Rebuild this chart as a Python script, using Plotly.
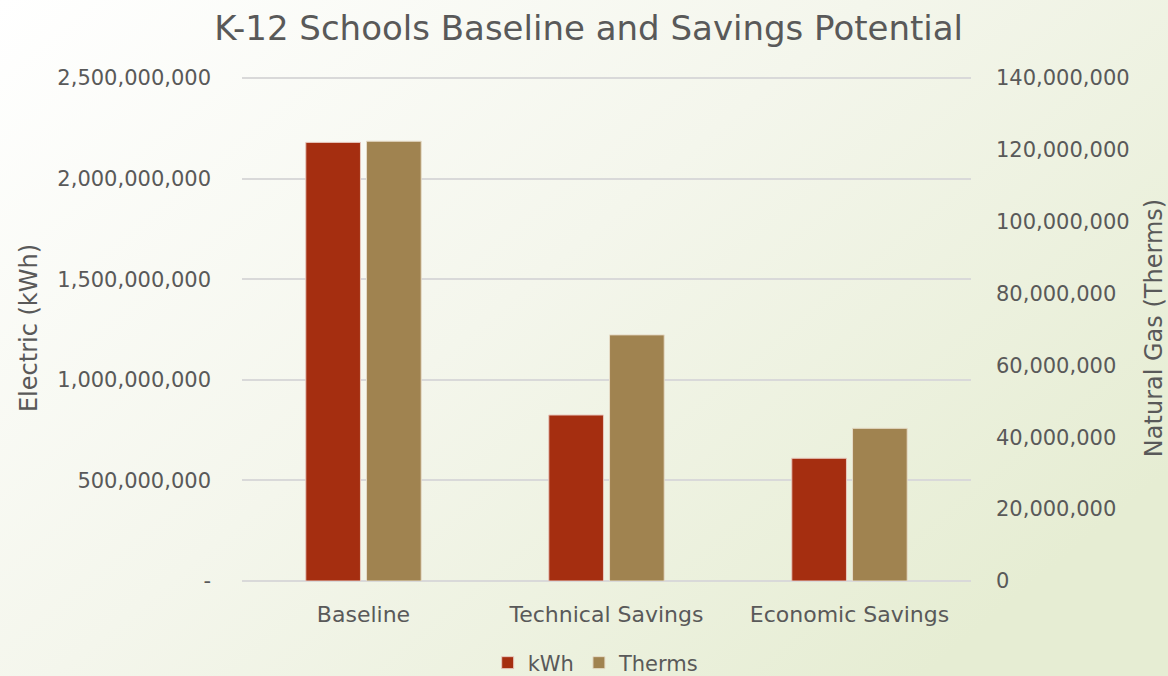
import base64
import plotly.graph_objects as go

categories = ["Baseline", "Technical Savings", "Economic Savings"]
kwh_values = [2180000000, 825000000, 610000000]
therm_values = [122400000, 68500000, 42500000]
left_ticks = [0, 500000000, 1000000000, 1500000000, 2000000000, 2500000000]
left_ticktext = ["-", "500,000,000", "1,000,000,000", "1,500,000,000", "2,000,000,000", "2,500,000,000"]
right_ticks = [0, 20000000, 40000000, 60000000, 80000000, 100000000, 120000000, 140000000]
right_ticktext = ["0", "20,000,000", "40,000,000", "60,000,000", "80,000,000", "100,000,000", "120,000,000", "140,000,000"]

W, H = 1168, 676
L, R, T, B = 242, 197, 75, 95
PW, PH = W - L - R, H - T - B
PAD = PH / (PH - 3)

FONT = "DejaVu Sans"
GRAY = "#595959"
GRID = "#D9D9D9"

svg = f'''<svg xmlns="http://www.w3.org/2000/svg" width="{W}" height="{H}" viewBox="0 0 {W} {H}" preserveAspectRatio="none">
<defs><linearGradient id="g" x1="0" y1="0" x2="1" y2="0.7">
<stop offset="0" stop-color="#FFFFFF"/><stop offset="0.5" stop-color="#F4F6EC"/><stop offset="1" stop-color="#E6EDD3"/>
</linearGradient></defs><rect width="{W}" height="{H}" fill="url(#g)"/></svg>'''
bg_src = "data:image/svg+xml;base64," + base64.b64encode(svg.encode()).decode()

fig = go.Figure()
fig.add_trace(go.Bar(
    x=categories, y=kwh_values, name="kWh", offsetgroup="1", yaxis="y",
    marker=dict(color="#A52E10", line=dict(color="#E8C8BE", width=1)),
))
fig.add_trace(go.Bar(
    x=categories, y=therm_values, name="Therms", offsetgroup="2", yaxis="y2",
    marker=dict(color="#A08350", line=dict(color="#E6DCC8", width=1)),
))

fig.update_layout(
    width=W, height=H,
    margin=dict(l=L, r=R, t=T, b=B, autoexpand=False),
    paper_bgcolor="rgba(0,0,0,0)",
    plot_bgcolor="rgba(0,0,0,0)",
    font=dict(family=FONT, color=GRAY, size=21),
    title=dict(text="K-12 Schools Baseline and Savings Potential", x=0.504, xref="container",
               xanchor="center", y=1 - 28 / H, yref="container", yanchor="middle",
               font=dict(size=34, color=GRAY, family=FONT)),
    barmode="group", bargap=0.5, bargroupgap=0.1,
    xaxis=dict(showgrid=False, showline=False, ticks="", tickfont=dict(size=22, color=GRAY),
               ticklabelstandoff=18),
    yaxis=dict(range=[0, 2500000000 * PAD], tickvals=left_ticks, ticktext=left_ticktext,
               showgrid=True, gridcolor=GRID, gridwidth=1.5,
               zeroline=True, zerolinecolor=GRID, zerolinewidth=1.5, showline=False,
               tickfont=dict(size=21, color=GRAY), ticklabelstandoff=30,
               title=dict(text="Electric (kWh)", font=dict(size=24, color=GRAY), standoff=12)),
    yaxis2=dict(range=[0, 140000000 * PAD], tickvals=right_ticks, ticktext=right_ticktext,
                overlaying="y", side="right", showgrid=False, zeroline=False, showline=False,
                tickfont=dict(size=21, color=GRAY), ticklabelstandoff=24,
                title=dict(text="Natural Gas (Therms)", font=dict(size=24, color=GRAY), standoff=16)),
    legend=dict(orientation="h", x=0.51, xref="container", xanchor="center",
                y=1 - 663 / H, yref="container", yanchor="middle",
                font=dict(size=21, color=GRAY), itemwidth=30, traceorder="normal"),
    images=[dict(source=bg_src, xref="paper", yref="paper",
                 x=-L / PW, y=1 + T / PH, sizex=W / PW, sizey=H / PH,
                 xanchor="left", yanchor="top", sizing="stretch", layer="below")],
)

fig.write_html("out.html", config={"displayModeBar": False},
               post_script="document.body.style.margin='0';document.body.style.padding='0';"
                           "document.body.style.overflow='hidden';")
